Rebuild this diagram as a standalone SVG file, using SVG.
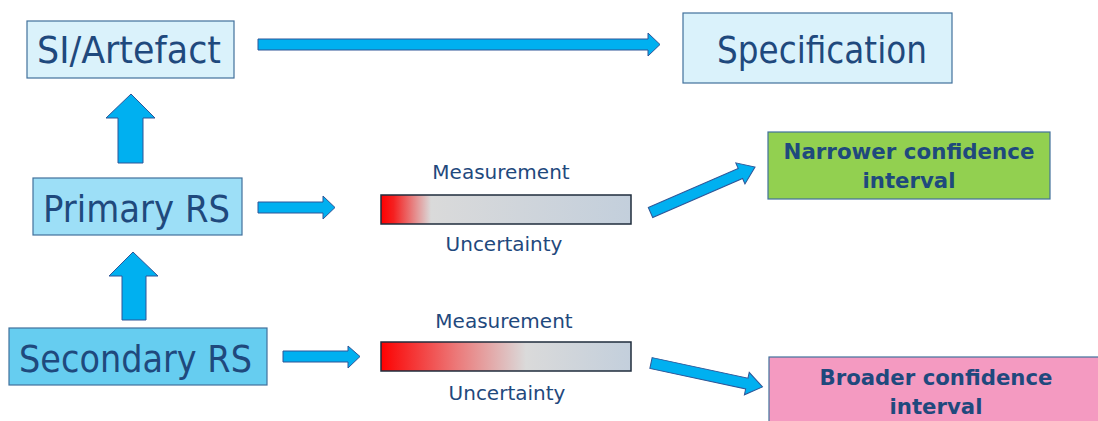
<svg xmlns="http://www.w3.org/2000/svg" width="1098" height="421" viewBox="0 0 1098 421">
<style>
.box{stroke:#41719C;stroke-width:1.2}
.big{font-family:"DejaVu Sans",Verdana,sans-serif;font-size:38px;fill:#1F497D}
.lbl{font-family:"DejaVu Sans",Verdana,sans-serif;font-size:20px;fill:#1F497D;text-anchor:middle}
.bold{font-family:"DejaVu Sans",Verdana,sans-serif;font-size:22px;font-weight:bold;fill:#1F497D}
.arr{fill:#00B0F0;stroke:#2F5597;stroke-width:1}
.bar{stroke:#1F2D3D;stroke-width:1.5}
</style>
<defs>
<linearGradient id="g1" x1="0" y1="0" x2="1" y2="0">
<stop offset="0" stop-color="#FF0000"/>
<stop offset="0.05" stop-color="#F52020"/>
<stop offset="0.2" stop-color="#DADADA"/>
<stop offset="1" stop-color="#C3CFDC"/>
</linearGradient>
<linearGradient id="g2" x1="0" y1="0" x2="1" y2="0">
<stop offset="0" stop-color="#FF0000"/>
<stop offset="0.05" stop-color="#F91616"/>
<stop offset="0.3" stop-color="#EC7878"/>
<stop offset="0.58" stop-color="#DADADA"/>
<stop offset="1" stop-color="#C3CFDC"/>
</linearGradient>
</defs>
<rect width="1098" height="421" fill="#FFFFFF"/>
<g id="si-artefact">
<rect class="box" x="27" y="21" width="207" height="57" fill="#DAF2FB"/>
<text class="big" x="37" y="63" textLength="184" lengthAdjust="spacingAndGlyphs">SI/Artefact</text>
</g>
<g id="specification">
<rect class="box" x="683" y="13" width="269" height="70" fill="#DAF2FB"/>
<text class="big" x="717" y="63" textLength="210" lengthAdjust="spacingAndGlyphs">Specification</text>
</g>
<g id="primary-rs">
<rect class="box" x="33" y="178" width="209" height="57" fill="#9DDFF7"/>
<text class="big" x="43" y="222" textLength="187" lengthAdjust="spacingAndGlyphs">Primary RS</text>
</g>
<g id="secondary-rs">
<rect class="box" x="9" y="328" width="258" height="57" fill="#66CDF0"/>
<text class="big" x="19" y="372" textLength="233" lengthAdjust="spacingAndGlyphs">Secondary RS</text>
</g>
<g id="bar-primary">
<text class="lbl" x="501" y="179">Measurement</text>
<rect class="bar" x="381" y="195" width="250" height="29" fill="url(#g1)"/>
<text class="lbl" x="504" y="251">Uncertainty</text>
</g>
<g id="bar-secondary">
<text class="lbl" x="504" y="328">Measurement</text>
<rect class="bar" x="381" y="342" width="250" height="29" fill="url(#g2)"/>
<text class="lbl" x="507" y="400">Uncertainty</text>
</g>
<g id="narrower">
<rect class="box" x="768" y="132" width="282" height="67" fill="#92D050"/>
<text class="bold" x="909" y="159" text-anchor="middle" textLength="251" lengthAdjust="spacingAndGlyphs">Narrower confidence</text>
<text class="bold" x="909" y="188" text-anchor="middle" textLength="93" lengthAdjust="spacingAndGlyphs">interval</text>
</g>
<g id="broader">
<rect class="box" x="769" y="357" width="340" height="70" fill="#F49AC1"/>
<text class="bold" x="936" y="385" text-anchor="middle" textLength="233" lengthAdjust="spacingAndGlyphs">Broader confidence</text>
<text class="bold" x="936" y="414" text-anchor="middle" textLength="93" lengthAdjust="spacingAndGlyphs">interval</text>
</g>
<g id="connectors">
<path class="arr" d="M258,39 H648 V33 L660,44.5 L648,56 V50 H258 Z"/>
<path class="arr" d="M131,94 L155,118 H143 V163 H118 V118 H106 Z"/>
<path class="arr" d="M133,252 L158,276 H146 V320 H122 V276 H109 Z"/>
<path class="arr" d="M258,202 H323 V196 L335,207.5 L323,219 V213 H258 Z"/>
<path class="arr" d="M283,351 H348 V346 L360,356.5 L348,368 V362 H283 Z"/>
<path class="arr" transform="translate(650.5,212.5) rotate(-23.5)" d="M0,-5.5 H98 V-11.5 L114,0 L98,11.5 V5.5 H0 Z"/>
<path class="arr" transform="translate(651,363) rotate(12.1)" d="M0,-5.5 H98 V-11.5 L114,0 L98,11.5 V5.5 H0 Z"/>
</g>
</svg>
